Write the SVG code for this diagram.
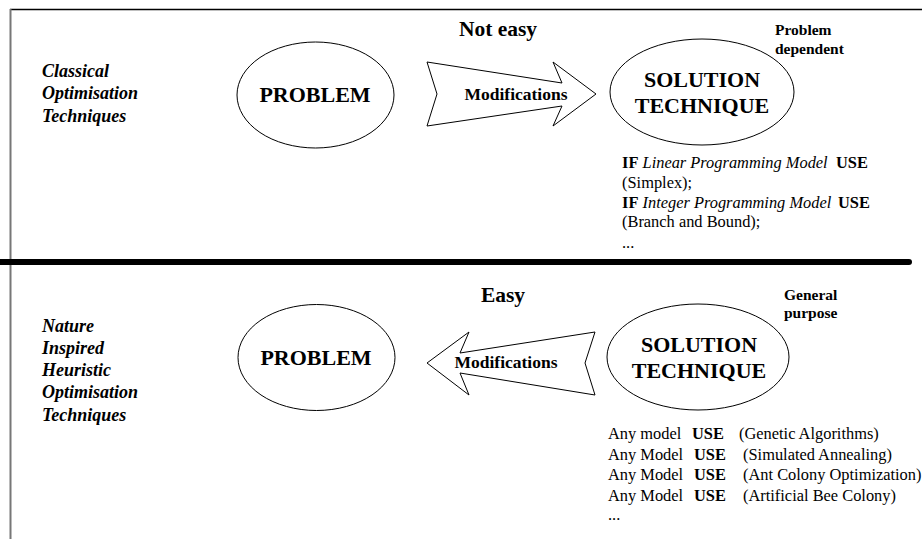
<svg xmlns="http://www.w3.org/2000/svg" width="922" height="539" viewBox="0 0 922 539" font-family="'Liberation Serif', 'DejaVu Serif', serif">
<style>
text{font-family:'Liberation Serif','DejaVu Serif',serif;fill:#000}
.b{font-weight:bold}
.i{font-style:italic}
.side{font-weight:bold;font-style:italic;font-size:18px}
.node{fill:#fff;stroke:#000;stroke-width:1}
.big{font-weight:bold;font-size:22px;text-anchor:middle}
.arrow{fill:#fff;stroke:#000;stroke-width:1}
.lst{font-size:16.4px}
.note{font-weight:bold;font-size:15.5px}
</style>
<rect x="0" y="0" width="922" height="539" fill="#fff"/>
<g id="frame">
<line x1="10" y1="9.5" x2="922" y2="9.5" stroke="#000" stroke-width="1.5"/>
<line x1="10.5" y1="9" x2="10.5" y2="539" stroke="#777" stroke-width="2"/>
<line x1="0" y1="262" x2="909" y2="262" stroke="#000" stroke-width="6" stroke-linecap="round"/>
</g>
<g id="label-classical">
<text class="side" x="42" y="77">Classical</text>
<text class="side" x="42" y="99">Optimisation</text>
<text class="side" x="42" y="122">Techniques</text>
</g>
<g id="label-nature">
<text class="side" x="42" y="332">Nature</text>
<text class="side" x="42" y="354">Inspired</text>
<text class="side" x="42" y="376">Heuristic</text>
<text class="side" x="42" y="398">Optimisation</text>
<text class="side" x="42" y="421">Techniques</text>
</g>
<g id="problem-top">
<ellipse class="node" cx="315.5" cy="95" rx="78.5" ry="53"/>
<text class="big" x="315" y="102">PROBLEM</text>
</g>
<g id="solution-top">
<ellipse class="node" cx="702" cy="92" rx="92" ry="53"/>
<text class="big" x="702" y="87">SOLUTION</text>
<text class="big" x="702" y="113">TECHNIQUE</text>
</g>
<g id="problem-bottom">
<ellipse class="node" cx="316.5" cy="357.5" rx="78.5" ry="53"/>
<text class="big" x="316" y="365">PROBLEM</text>
</g>
<g id="solution-bottom">
<ellipse class="node" cx="698" cy="357" rx="91" ry="53"/>
<text class="big" x="699" y="352">SOLUTION</text>
<text class="big" x="699" y="378">TECHNIQUE</text>
</g>
<g id="connectors">
<g id="arrow-top">
<polygon class="arrow" points="427,62 562,83 553,62 596,94 553,126 562,106 427,126 437,94"/>
<text class="b" x="516" y="100" font-size="17.5" text-anchor="middle">Modifications</text>
<text class="b" x="498" y="36" font-size="21.5" text-anchor="middle">Not easy</text>
</g>
<g id="arrow-bottom">
<polygon class="arrow" points="427,363 469,332 460,353 595,332 585,363 595,395 460,373 469,395"/>
<text class="b" x="506" y="368" font-size="17.5" text-anchor="middle">Modifications</text>
<text class="b" x="503" y="302" font-size="21.5" text-anchor="middle">Easy</text>
</g>
</g>
<g id="note-top">
<text class="note" x="775" y="35">Problem</text>
<text class="note" x="775" y="54">dependent</text>
</g>
<g id="note-bottom">
<text class="note" x="784" y="300">General</text>
<text class="note" x="784" y="318">purpose</text>
</g>
<g id="list-top">
<text class="lst" x="622" y="168"><tspan class="b">IF</tspan> <tspan class="i">Linear Programming Model</tspan>  <tspan class="b" x="836">USE</tspan></text>
<text class="lst" x="622" y="188">(Simplex);</text>
<text class="lst" x="622" y="208"><tspan class="b">IF</tspan> <tspan class="i">Integer Programming Model</tspan> <tspan class="b" x="838">USE</tspan></text>
<text class="lst" x="622" y="227">(Branch and Bound);</text>
<text class="lst" x="622" y="248">...</text>
</g>
<g id="list-bottom">
<text class="lst" x="608" y="439">Any model</text>
<text class="lst b" x="692" y="439">USE</text>
<text class="lst" x="739" y="439">(Genetic Algorithms)</text>
<text class="lst" x="608" y="460">Any Model</text>
<text class="lst b" x="694" y="460">USE</text>
<text class="lst" x="743" y="460">(Simulated Annealing)</text>
<text class="lst" x="608" y="480">Any Model</text>
<text class="lst b" x="694" y="480">USE</text>
<text class="lst" x="743" y="480">(Ant Colony Optimization)</text>
<text class="lst" x="608" y="501">Any Model</text>
<text class="lst b" x="694" y="501">USE</text>
<text class="lst" x="743" y="501">(Artificial Bee Colony)</text>
<text class="lst" x="608" y="520">...</text>
</g>
</svg>
